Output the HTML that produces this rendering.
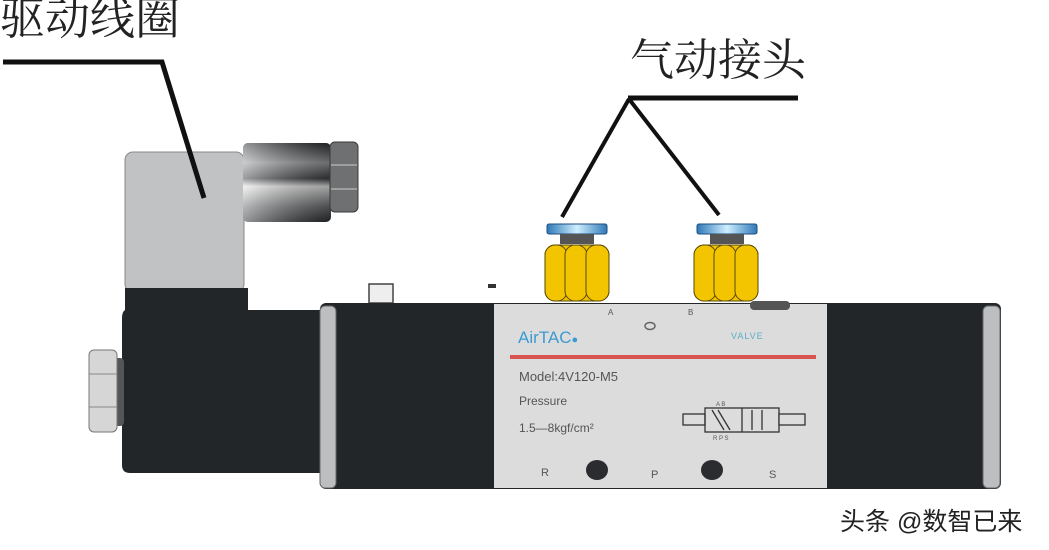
<!DOCTYPE html>
<html><head><meta charset="utf-8"><style>
html,body{margin:0;padding:0;background:#fff;}
svg{display:block;}
.cjk{font-family:"Liberation Serif","Noto Serif CJK SC","Noto Sans CJK SC",serif;}
.lab{font-family:"Liberation Sans",Arial,sans-serif;fill:#555;}
</style></head><body>
<svg width="1049" height="550" viewBox="0 0 1049 550" xmlns="http://www.w3.org/2000/svg">
<defs>
<linearGradient id="cyl" x1="0" y1="0" x2="0" y2="1">
<stop offset="0" stop-color="#2a2d30"/><stop offset="0.25" stop-color="#9a9c9e"/><stop offset="0.45" stop-color="#3a3d40"/><stop offset="0.55" stop-color="#e6e6e6"/><stop offset="0.8" stop-color="#707274"/><stop offset="1" stop-color="#2a2d30"/>
</linearGradient>
<linearGradient id="cylh" x1="0" y1="0" x2="1" y2="0">
<stop offset="0" stop-color="#ffffff" stop-opacity="0.5"/><stop offset="1" stop-color="#000" stop-opacity="0.3"/>
</linearGradient>
<linearGradient id="blue" x1="0" y1="0" x2="1" y2="0">
<stop offset="0" stop-color="#2f78b8"/><stop offset="0.5" stop-color="#cfefff"/><stop offset="1" stop-color="#2f78b8"/>
</linearGradient>
</defs>

<!-- labels -->
<text x="0" y="34" class="cjk" font-size="45" fill="#222">驱动线圈</text>
<text x="630" y="75" class="cjk" font-size="44" fill="#222">气动接头</text>

<!-- coil grey housing -->
<rect x="125" y="152" width="119" height="140" rx="8" fill="#c1c2c4" stroke="#888" stroke-width="1"/>
<!-- connector cylinder -->
<rect x="243" y="143" width="88" height="79" rx="5" fill="url(#cyl)"/>
<rect x="243" y="143" width="88" height="79" rx="5" fill="url(#cylh)"/>
<rect x="330" y="142" width="28" height="70" rx="5" fill="#6e7072" stroke="#3a3a3a"/>
<line x1="331" y1="165" x2="357" y2="165" stroke="#ccc"/>
<line x1="331" y1="189" x2="357" y2="189" stroke="#ccc"/>
<!-- black coil -->
<path d="M125 288 H248 V310 H322 V473 H130 Q122 473 122 465 V318 Q122 312 125 310 Z" fill="#232629"/>
<!-- left nut -->
<rect x="112" y="358" width="12" height="68" rx="4" fill="#555"/>
<rect x="89" y="350" width="28" height="82" rx="5" fill="#d6d6d6" stroke="#777"/>
<line x1="89" y1="374" x2="117" y2="374" stroke="#888"/>
<line x1="89" y1="407" x2="117" y2="407" stroke="#888"/>

<polyline points="3,62 162,62 204,198" fill="none" stroke="#111" stroke-width="5"/>
<line x1="628" y1="98" x2="798" y2="98" stroke="#111" stroke-width="5"/>
<line x1="629" y1="99" x2="562" y2="217" stroke="#111" stroke-width="4"/>
<line x1="629" y1="99" x2="719" y2="215" stroke="#111" stroke-width="4"/>

<!-- small bumps on top -->
<rect x="369" y="284" width="24" height="19" fill="#eee" stroke="#444" stroke-width="1.5"/>
<rect x="488" y="284" width="8" height="4" fill="#333"/>

<!-- main body -->
<rect x="320" y="303" width="681" height="186" rx="6" fill="#232629"/>
<rect x="320" y="306" width="16" height="182" rx="5" fill="#bdbec0" stroke="#666"/>
<rect x="983" y="306" width="17" height="182" rx="5" fill="#bdbec0" stroke="#666"/>
<rect x="494" y="304" width="333" height="184" fill="#dcdcdc"/>
<rect x="750" y="301" width="40" height="9" rx="4" fill="#555"/>

<!-- fittings -->
<g>
<rect x="547" y="224" width="60" height="10" rx="2" fill="url(#blue)" stroke="#1d4f7d"/>
<rect x="560" y="234" width="34" height="10" fill="#555"/>
<rect x="545" y="245" width="64" height="56" rx="10" fill="#f2c300" stroke="#5a4a00"/>
<rect x="545" y="245" width="22" height="56" rx="10" fill="#f3c500" stroke="#5a4a00"/>
<rect x="565" y="245" width="22" height="56" rx="10" fill="#f3c500" stroke="#5a4a00"/>
<rect x="586" y="245" width="23" height="56" rx="10" fill="#f3c500" stroke="#5a4a00"/>
</g>
<g>
<rect x="697" y="224" width="60" height="10" rx="2" fill="url(#blue)" stroke="#1d4f7d"/>
<rect x="710" y="234" width="34" height="10" fill="#555"/>
<rect x="694" y="245" width="64" height="56" rx="10" fill="#f2c300" stroke="#5a4a00"/>
<rect x="694" y="245" width="22" height="56" rx="10" fill="#f3c500" stroke="#5a4a00"/>
<rect x="714" y="245" width="22" height="56" rx="10" fill="#f3c500" stroke="#5a4a00"/>
<rect x="735" y="245" width="23" height="56" rx="10" fill="#f3c500" stroke="#5a4a00"/>
</g>

<!-- label panel content -->
<text x="608" y="315" class="lab" font-size="8">A</text>
<text x="688" y="315" class="lab" font-size="8">B</text>
<ellipse cx="650" cy="326" rx="5" ry="3.5" fill="none" stroke="#666" stroke-width="1.5"/>
<text x="518" y="343" font-family="Liberation Sans,sans-serif" font-size="17" fill="#3b9bd2">AirTAC<tspan font-size="11">●</tspan></text>
<text x="731" y="339" font-family="Liberation Sans,sans-serif" font-size="9" fill="#5ab0c8" letter-spacing="1">VALVE</text>
<rect x="510" y="355" width="306" height="4" fill="#d9534f"/>
<text x="519" y="381" class="lab" font-size="13">Model:4V120-M5</text>
<text x="519" y="405" class="lab" font-size="12">Pressure</text>
<text x="519" y="432" class="lab" font-size="12">1.5—8kgf/cm²</text>
<!-- valve symbol -->
<g stroke="#333" fill="none" stroke-width="1.3">
<rect x="683" y="414" width="22" height="11" fill="#ddd"/>
<rect x="705" y="408" width="74" height="24"/>
<line x1="742" y1="408" x2="742" y2="432"/>
<line x1="712" y1="410" x2="724" y2="430"/><line x1="718" y1="410" x2="730" y2="430"/>
<line x1="752" y1="410" x2="752" y2="430"/><line x1="762" y1="410" x2="762" y2="430"/>
<rect x="779" y="414" width="26" height="11" fill="#ddd"/>
</g>
<text x="716" y="406" class="lab" font-size="6">A B</text>
<text x="713" y="440" class="lab" font-size="6">R P S</text>
<text x="541" y="476" class="lab" font-size="11">R</text>
<ellipse cx="597" cy="470" rx="11" ry="10" fill="#2a2c2f"/>
<text x="651" y="478" class="lab" font-size="11">P</text>
<ellipse cx="712" cy="470" rx="11" ry="10" fill="#2a2c2f"/>
<text x="769" y="478" class="lab" font-size="11">S</text>

<!-- watermark -->
<text x="840" y="530" font-family="Liberation Sans,'Noto Sans CJK SC',sans-serif" font-size="25" fill="#222">头条 @数智已来</text>
</svg>
</body></html>
